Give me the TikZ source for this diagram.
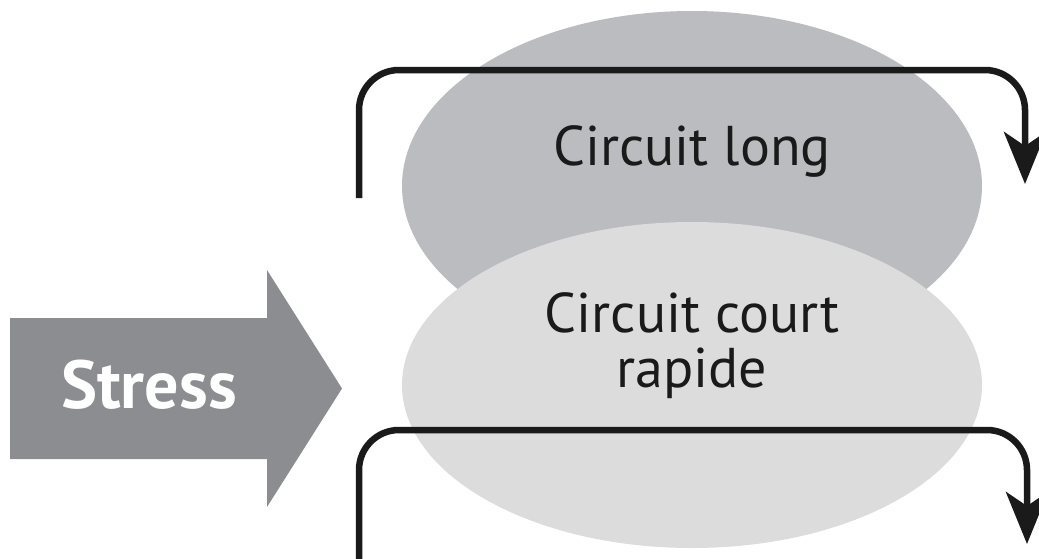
\documentclass[tikz,border=0pt]{standalone}
\usepackage{fontspec}
\setmainfont{PT Sans}
\usetikzlibrary{arrows.meta,shapes.geometric}
\definecolor{arrowgrey}{HTML}{8C8D90}
\definecolor{longgrey}{HTML}{BBBCC0}
\definecolor{shortgrey}{HTML}{DCDCDC}
\definecolor{ink}{HTML}{1A1A1A}
\tikzset{
  circuit/.style={ellipse, draw=none, inner sep=0pt},
  label text/.style={text=ink, font=\fontsize{56}{62}\selectfont, inner sep=0pt, anchor=base},
  loop/.style={draw=ink, line width=6.5pt, rounded corners=40pt,
    -{Stealth[length=52pt,width=42pt,inset=14pt]}},
}
\begin{document}
\begin{tikzpicture}[x=1pt,y=-1pt]
  \useasboundingbox (0,0) rectangle (1039,558);

  % stress input arrow
  \fill[arrowgrey] (10,318) -- (267,318) -- (267,270) -- (342,388.5)
    -- (267,507) -- (267,459) -- (10,459) -- cycle;
  \node[text=white, font=\bfseries\fontsize{68}{72}\selectfont, inner sep=0pt, anchor=base]
    (stress) at (149,408) {Stress};

  % the two circuits
  \node[circuit, fill=longgrey, minimum width=580pt, minimum height=350pt]
    (long) at (692,186) {};
  \node[circuit, fill=shortgrey, minimum width=580pt, minimum height=326pt]
    (short) at (692,385) {};

  \node[label text] (longtxt) at (692,165) {Circuit long};
  \node[label text] (shorttxt1) at (692,332) {Circuit court};
  \node[label text] (shorttxt2) at (692,387) {rapide};

  % feedback loops
  \coordinate (l1s) at (359,198);
  \coordinate (l1a) at (359,70);
  \coordinate (l1b) at (1025,70);
  \coordinate (l1e) at (1025,184);
  \draw[loop] (l1s) -- (l1a) -- (l1b) -- (l1e);

  \coordinate (l2s) at (359,560);
  \coordinate (l2a) at (359,430);
  \coordinate (l2b) at (1027,430);
  \coordinate (l2e) at (1027,544);
  \draw[loop] (l2s) -- (l2a) -- (l2b) -- (l2e);
\end{tikzpicture}
\end{document}
